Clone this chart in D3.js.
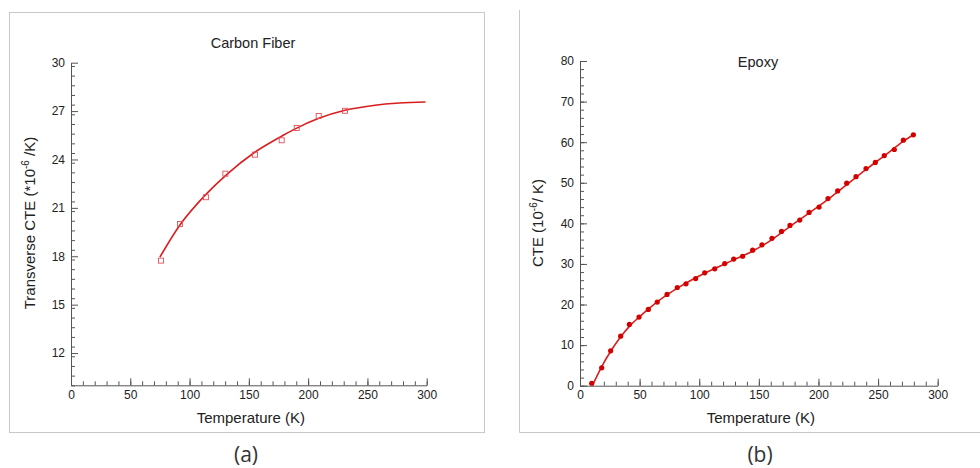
<!DOCTYPE html>
<html>
<head>
<meta charset="utf-8">
<script src="https://cdn.jsdelivr.net/npm/d3@7"></script>
<style>
  body { margin: 0; background: #fff; }
  svg text { font-family: "Liberation Sans", Arial, sans-serif; fill: #222; }
</style>
</head>
<body>
<div id="my_dataviz"></div>
<script>
// Carbon fiber measured points
const cfTemp = [75.9, 91.9, 113.8, 130.2, 155.2, 177.7, 190.4, 208.9, 231.1]
const cfCte = [17.73, 20.0, 21.66, 23.12, 24.3, 25.19, 25.95, 26.7, 27.02]
// Carbon fiber fitted curve
const cfFitTemp = [75, 92, 114, 131, 155, 179, 190, 209, 231, 255, 277, 299]
const cfFitCte = [17.95, 19.95, 21.85, 23.05, 24.45, 25.5, 25.93, 26.55, 27.05, 27.35, 27.5, 27.56]

// Epoxy measured points
const epTemp = [9.8, 18.2, 25.7, 34.1, 41.4, 49.5, 57.3, 64.8, 73, 81.6, 88.9, 97, 104.6, 113, 121.4,
  128.9, 136.4, 144.8, 152.6, 161, 169, 176.1, 184.3, 192.1, 200.5, 208, 216.1, 223.7, 231.5, 239.9,
  247.7, 255.2, 263.6, 271.2, 279.6]
const epCte = [0.6, 4.4, 8.6, 12.2, 15.1, 16.9, 18.8, 20.6, 22.5, 24.2, 25.1, 26.4, 27.8, 28.8, 30.1,
  31.2, 31.9, 33.4, 34.7, 36.3, 38.0, 39.5, 40.8, 42.7, 44.0, 46.1, 48.0, 49.9, 51.5, 53.5,
  55.0, 56.7, 58.2, 60.5, 61.8]
// Epoxy fitted curve
const epFitTemp = [10.5, 18, 26, 34, 42, 50, 65, 81, 97, 113, 129, 145, 161, 176, 192, 208, 224, 240, 256, 271, 280]
const epFitCte = [0.1, 4.6, 8.6, 12.0, 14.8, 17.0, 20.7, 23.9, 26.6, 28.9, 31.0, 33.2, 36.0, 39.2, 42.5, 45.9, 49.6, 53.3, 56.8, 60.2, 61.9]

// tick values
const xTicks = [0, 50, 100, 150, 200, 250, 300]
const cfYTicks = [12, 15, 18, 21, 24, 27, 30]
const epYTicks = [0, 10, 20, 30, 40, 50, 60, 70, 80]

const W = 980, H = 468
const red = "#d81e1e"

var svg = d3.select("#my_dataviz")
    .append("svg")
    .attr("width", W)
    .attr("height", H)

// panel frames
svg.append("rect")
    .attr("x", 9.5).attr("y", 12.5)
    .attr("width", 475).attr("height", 420)
    .style("fill", "none").style("stroke", "#c8c8c8")
svg.append("path")
    .attr("d", "M519.5,10 V432.5 H980")
    .style("fill", "none").style("stroke", "#c8c8c8")

function panel(opts) {
    var x = d3.scaleLinear().domain([0, 300]).range(opts.xr)
    var y = d3.scaleLinear().domain(opts.yd).range(opts.yr)
    var g = svg.append("g")

    // minor ticks
    g.append("g")
        .attr("transform", "translate(0," + opts.yr[0] + ")")
        .call(d3.axisBottom(x).tickValues(d3.range(0, 301, 10)).tickSize(-4).tickFormat(""))
        .call(s => s.select(".domain").remove())
    g.append("g")
        .attr("transform", "translate(" + opts.xr[0] + ",0)")
        .call(d3.axisLeft(y).tickValues(d3.range(opts.yd[0], opts.yd[1] + 1e-6, opts.minor)).tickSize(-4).tickFormat(""))
        .call(s => s.select(".domain").remove())

    // major ticks
    g.append("g")
        .attr("class", "xaxis")
        .attr("transform", "translate(0," + opts.yr[0] + ")")
        .call(d3.axisBottom(x).tickValues(xTicks).tickSizeInner(-7).tickSizeOuter(0).tickPadding(5))
    g.append("g")
        .attr("class", "yaxis")
        .attr("transform", "translate(" + opts.xr[0] + ",0)")
        .call(d3.axisLeft(y).tickValues(opts.yTicks).tickSizeInner(-7).tickSizeOuter(0).tickPadding(6))

    g.selectAll(".tick line, .domain").style("stroke", "#555")
    g.selectAll(".tick text")
        .style("font-size", "12px")
        .style("font-family", "'Liberation Sans', Arial, sans-serif")
        .style("fill", "#222")

    // title
    g.append("text")
        .attr("text-anchor", "middle")
        .attr("x", opts.titleX)
        .attr("y", opts.titleY)
        .style("font-size", "14.5px")
        .text(opts.title)

    // x label
    g.append("text")
        .attr("text-anchor", "middle")
        .attr("x", (opts.xr[0] + opts.xr[1]) / 2 + 2)
        .attr("y", 423)
        .style("font-size", "15px")
        .text("Temperature (K)")

    // y label with superscript
    var yl = g.append("text")
        .attr("text-anchor", "middle")
        .attr("transform", "translate(" + opts.ylabX + "," + opts.ylabY + ") rotate(-90)")
        .style("font-size", "15px")
    yl.append("tspan").text(opts.ylab[0])
    yl.append("tspan").attr("dy", -6).style("font-size", "10px").text("-6")
    yl.append("tspan").attr("dy", 6).text(opts.ylab[1])

    // fitted curve
    var line = d3.line()
        .x((d, i) => x(opts.fitT[i]))
        .y((d, i) => y(opts.fitC[i]))
        .curve(d3.curveMonotoneX)
    g.append("path")
        .datum(opts.fitT)
        .attr("d", line)
        .style("fill", "none")
        .style("stroke", red)
        .style("stroke-width", 1.6)

    // panel caption
    svg.append("text")
        .attr("text-anchor", "middle")
        .attr("x", opts.capX)
        .attr("y", 462)
        .style("font-size", "21px")
        .style("font-family", "'Open Sans', 'Noto Sans', sans-serif")
        .style("fill", "#333")
        .text(opts.cap)

    return { g: g, x: x, y: y }
}

// (a) Carbon fiber
var a = panel({
    xr: [71, 426.7], yr: [385.3, 62.7], yd: [10, 30], minor: 0.6, yTicks: cfYTicks,
    title: "Carbon Fiber", titleX: 253, titleY: 48,
    ylab: ["Transverse CTE (*10", " /K)"], ylabX: 35, ylabY: 223,
    fitT: cfFitTemp, fitC: cfFitCte, cap: "(a)", capX: 246
})
a.g.append("g")
    .selectAll("rect")
    .data(cfTemp)
    .enter()
    .append("rect")
    .attr("x", (d) => a.x(d) - 2.5)
    .attr("y", (d, i) => a.y(cfCte[i]) - 2.5)
    .attr("width", 5)
    .attr("height", 5)
    .style("fill", "none")
    .style("stroke", "#e5505a")
    .style("stroke-width", 0.9)

// (b) Epoxy
var b = panel({
    xr: [580, 937.7], yr: [385.7, 61], yd: [0, 80], minor: 2, yTicks: epYTicks,
    title: "Epoxy", titleX: 758, titleY: 67,
    ylab: ["CTE (10", "/ K)"], ylabX: 543, ylabY: 223,
    fitT: epFitTemp, fitC: epFitCte, cap: "(b)", capX: 760
})
b.g.append("g")
    .selectAll("circle")
    .data(epTemp)
    .enter()
    .append("circle")
    .attr("cx", (d) => b.x(d))
    .attr("cy", (d, i) => b.y(epCte[i]))
    .attr("r", 2.6)
    .style("fill", "#d40000")
</script>
</body>
</html>
